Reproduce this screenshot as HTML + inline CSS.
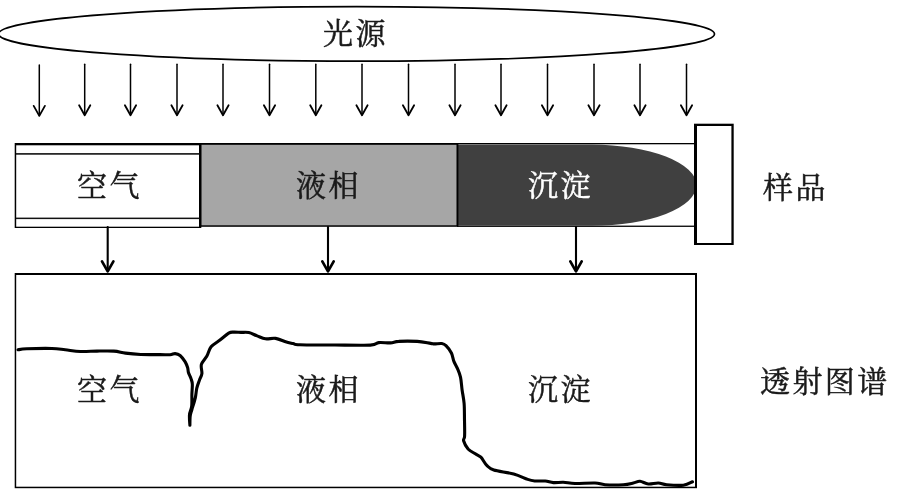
<!DOCTYPE html>
<html lang="zh-CN">
<head>
<meta charset="utf-8">
<title>光源 样品 透射图谱</title>
<style>
html,body{margin:0;padding:0;background:#fff;}
body{width:900px;height:496px;overflow:hidden;position:relative;}
svg{position:absolute;left:0;top:0;display:block;}
.lbl{position:absolute;margin:0;padding:0;white-space:nowrap;font-family:"Liberation Serif","Noto Serif CJK SC",serif;font-size:30px;font-weight:400;-webkit-text-stroke:0.5px currentColor;letter-spacing:2.4px;line-height:40px;height:40px;color:#1a1a1a;will-change:transform;}
</style>
</head>
<body>
<svg width="900" height="496" viewBox="0 0 900 496">
  <rect x="0" y="0" width="900" height="496" fill="#ffffff"/>

  <!-- light source -->
  <ellipse cx="356.5" cy="33.9" rx="358" ry="27.3" fill="#fff" stroke="#000" stroke-width="1.7"/>

  <!-- light arrows -->
  <g stroke="#000" fill="none" stroke-linecap="round" stroke-linejoin="round">
    <path stroke-width="1.5" d="M39.3 65.0V115.2"/>
    <path stroke-width="1.8" d="M33.7 105.9L39.3 115.9L44.9 105.9"/>
    <path stroke-width="1.5" d="M84.7 64.3V114.5"/>
    <path stroke-width="1.8" d="M79.1 105.2L84.7 115.2L90.3 105.2"/>
    <path stroke-width="1.5" d="M130.5 64.3V114.5"/>
    <path stroke-width="1.8" d="M124.9 105.2L130.5 115.2L136.1 105.2"/>
    <path stroke-width="1.5" d="M177 64.3V114.5"/>
    <path stroke-width="1.8" d="M171.4 105.2L177 115.2L182.6 105.2"/>
    <path stroke-width="1.5" d="M223 64.3V114.5"/>
    <path stroke-width="1.8" d="M217.4 105.2L223 115.2L228.6 105.2"/>
    <path stroke-width="1.5" d="M269.5 64.3V114.5"/>
    <path stroke-width="1.8" d="M263.9 105.2L269.5 115.2L275.1 105.2"/>
    <path stroke-width="1.5" d="M315.8 64.3V114.5"/>
    <path stroke-width="1.8" d="M310.2 105.2L315.8 115.2L321.4 105.2"/>
    <path stroke-width="1.5" d="M362 64.3V114.5"/>
    <path stroke-width="1.8" d="M356.4 105.2L362 115.2L367.6 105.2"/>
    <path stroke-width="1.5" d="M408.5 64.3V114.5"/>
    <path stroke-width="1.8" d="M402.9 105.2L408.5 115.2L414.1 105.2"/>
    <path stroke-width="1.5" d="M455 64.3V114.5"/>
    <path stroke-width="1.8" d="M449.4 105.2L455 115.2L460.6 105.2"/>
    <path stroke-width="1.5" d="M501 64.3V114.5"/>
    <path stroke-width="1.8" d="M495.4 105.2L501 115.2L506.6 105.2"/>
    <path stroke-width="1.5" d="M547.5 64.3V114.5"/>
    <path stroke-width="1.8" d="M541.9 105.2L547.5 115.2L553.1 105.2"/>
    <path stroke-width="1.5" d="M594 64.3V114.5"/>
    <path stroke-width="1.8" d="M588.4 105.2L594 115.2L599.6 105.2"/>
    <path stroke-width="1.5" d="M640 64.3V114.5"/>
    <path stroke-width="1.8" d="M634.4 105.2L640 115.2L645.6 105.2"/>
    <path stroke-width="1.5" d="M686.5 64.3V114.5"/>
    <path stroke-width="1.8" d="M680.9 105.2L686.5 115.2L692.1 105.2"/>
  </g>

  <!-- sample tube -->
  <rect x="457" y="143" width="238" height="83.900" fill="#000"/>
  <rect x="457" y="144.300" width="238" height="81.300" fill="#fff"/>
  <path d="M457 144.600H592A104.5 40.6 0 0 1 592 225.800H457Z" fill="#404040"/>
  <rect x="199" y="143" width="259.400" height="83.800" fill="#000"/>
  <rect x="201.300" y="144.800" width="255.200" height="80.500" fill="#a6a6a6"/>
  <rect x="14.700" y="143" width="186.600" height="85" fill="#000"/>
  <rect x="16.200" y="145.300" width="182.800" height="81.400" fill="#fff"/>
  <rect x="16" y="153.100" width="183.500" height="1.600" fill="#111"/>
  <rect x="16" y="217.600" width="183.500" height="1.500" fill="#111"/>
  <rect x="694" y="123.700" width="39.700" height="121.300" fill="#000"/>
  <rect x="697" y="126" width="34.400" height="117" fill="#fff"/>

  <!-- arrows to spectrum -->
  <g stroke="#000" fill="none" stroke-linecap="round" stroke-linejoin="round">
    <path stroke-width="2.1" d="M107.7 227V270"/>
    <path stroke-width="2.7" d="M102.0 261.3L107.7 271.3L113.4 261.3"/>
    <path stroke-width="2.1" d="M328 227V270"/>
    <path stroke-width="2.7" d="M322.3 261.3L328 271.3L333.7 261.3"/>
    <path stroke-width="2.1" d="M576 227V270"/>
    <path stroke-width="2.7" d="M570.3 261.3L576 271.3L581.7 261.3"/>
  </g>

  <!-- spectrum box -->
  <rect x="14.700" y="273" width="682.300" height="215.200" fill="#000"/>
  <rect x="16.200" y="275" width="678.800" height="211.700" fill="#fff"/>
  <path d="M18.0 349.8C19.4 349.6 21.1 349.0 26.7 348.8C32.4 348.6 45.5 348.3 51.9 348.5C58.3 348.7 60.5 349.3 65.2 349.8C69.9 350.3 75.0 351.3 80.3 351.5C85.6 351.7 91.4 351.2 97.0 351.1C102.6 351.0 109.0 350.8 113.8 351.1C118.5 351.4 121.0 352.5 125.5 353.1C130.0 353.7 134.8 354.2 140.6 354.5C146.3 354.8 155.1 354.6 160.0 354.6C164.9 354.6 167.6 354.9 170.1 354.7C172.6 354.5 173.4 353.5 175.1 353.6C176.8 353.7 178.4 354.1 180.1 355.5C181.8 356.9 183.9 359.9 185.2 361.9C186.4 363.9 187.0 365.7 187.6 367.5C188.2 369.3 187.9 370.8 188.5 372.7C189.1 374.6 190.4 376.7 191.0 378.6C191.6 380.5 192.2 381.4 192.3 384.0C192.5 386.6 192.0 390.5 191.9 394.2C191.8 397.9 192.1 402.9 191.7 406.3C191.3 409.7 189.8 411.5 189.5 414.7C189.2 417.9 189.8 423.5 189.9 425.3M189.9 425.3C189.9 423.8 189.9 418.6 190.2 416.0C190.5 413.4 191.1 412.5 191.9 409.5C192.8 406.5 194.5 401.4 195.3 397.8C196.1 394.2 196.1 391.1 196.8 388.1C197.5 385.1 198.7 382.4 199.5 380.0C200.3 377.6 201.6 376.2 201.9 373.6C202.2 371.0 200.6 367.3 201.4 364.4C202.2 361.5 205.3 358.9 206.9 356.0C208.5 353.1 208.9 349.5 211.1 346.8C213.3 344.1 217.4 342.1 220.3 339.8C223.2 337.5 226.5 334.4 228.7 333.1C230.9 331.8 231.6 332.2 233.7 332.1C235.8 332.0 238.5 332.3 241.0 332.4C243.5 332.5 246.1 332.0 248.8 332.6C251.5 333.2 254.4 334.9 257.2 335.9C260.0 336.9 262.4 338.4 265.5 338.8C268.6 339.2 272.2 337.9 275.6 338.4C279.0 338.9 282.7 340.9 285.6 341.8C288.5 342.7 290.6 343.0 293.0 343.5C295.4 344.0 293.0 344.6 300.0 344.8C307.0 345.1 323.3 344.9 335.0 345.0C346.7 345.1 363.1 345.5 370.4 345.1C377.7 344.7 375.3 343.0 378.7 342.6C382.1 342.2 387.1 343.1 390.5 342.9C393.9 342.7 394.4 341.6 398.8 341.4C403.2 341.1 411.9 341.1 417.2 341.4C422.5 341.7 427.7 343.0 430.6 343.4C433.5 343.8 432.6 343.9 434.5 343.9C436.4 343.9 439.9 343.2 441.8 343.5C443.7 343.8 444.4 344.1 446.0 345.7C447.6 347.3 450.1 350.4 451.4 353.0C452.7 355.6 452.9 358.8 453.9 361.4C454.9 364.0 456.4 366.1 457.5 368.7C458.6 371.3 459.7 373.6 460.5 377.2C461.3 380.8 461.5 385.6 462.1 390.0C462.7 394.4 463.7 398.4 464.1 403.4C464.5 408.4 464.4 414.6 464.5 420.0C464.6 425.4 464.8 432.6 464.6 436.1C464.5 439.6 463.0 438.7 463.6 440.8C464.2 442.9 466.2 446.8 468.1 449.0C470.1 451.2 473.2 452.4 475.3 453.8C477.4 455.2 479.0 455.3 480.9 457.2C482.8 459.1 484.6 463.3 486.8 465.4C489.0 467.5 489.3 468.6 493.8 470.0C498.3 471.4 508.1 472.4 513.7 474.0C519.4 475.6 524.2 478.2 527.7 479.4C531.2 480.6 531.8 480.7 534.7 481.0C537.6 481.3 542.1 480.7 545.2 481.0C548.3 481.3 550.4 482.4 553.4 482.6C556.4 482.8 559.7 482.2 563.3 482.3C566.9 482.4 569.7 483.4 575.0 483.5C580.3 483.6 590.0 482.8 595.0 483.0C600.0 483.2 600.3 484.4 605.0 484.7C609.7 485.0 618.6 485.0 623.3 484.7C628.0 484.4 630.5 483.6 633.3 483.0C636.1 482.4 637.5 481.1 640.0 481.3C642.5 481.5 645.2 483.7 648.3 484.0C651.3 484.3 655.2 482.9 658.3 483.0C661.4 483.1 662.5 484.3 666.7 484.7C670.9 485.1 679.0 485.7 683.3 485.2C687.6 484.7 691.0 482.4 692.5 481.8" fill="none" stroke="#000" stroke-width="3.1" stroke-linecap="round" stroke-linejoin="round"/>
</svg>
<div class="lbl" style="left:323px;top:13.8px;">光源</div>
<div class="lbl" style="left:77px;top:165.7px;">空气</div>
<div class="lbl" style="left:296px;top:165.7px;">液相</div>
<div class="lbl" style="left:528px;top:165.7px;color:#fff">沉淀</div>
<div class="lbl" style="left:763.3px;top:168.2px;">样品</div>
<div class="lbl" style="left:77px;top:370px;">空气</div>
<div class="lbl" style="left:296px;top:370px;">液相</div>
<div class="lbl" style="left:528px;top:370px;">沉淀</div>
<div class="lbl" style="left:760px;top:362.1px;">透射图谱</div>
</body>
</html>
